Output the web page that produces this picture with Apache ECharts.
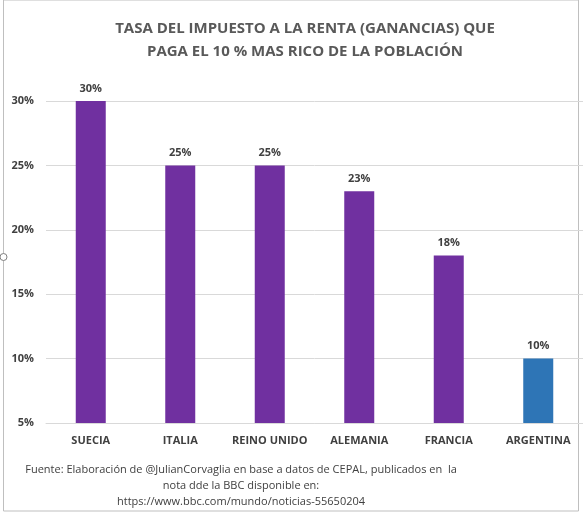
<!DOCTYPE html>
<html>
<head>
<meta charset="utf-8">
<script src="https://cdn.jsdelivr.net/npm/echarts@6/dist/echarts.min.js"></script>
<style>html,body{margin:0;padding:0;background:#fff}#main{width:583px;height:512px}</style>
</head>
<body>
<div id="main"></div>
<script>
const countries = ['SUECIA', 'ITALIA', 'REINO UNIDO', 'ALEMANIA', 'FRANCIA', 'ARGENTINA'];
const rates = [30, 25, 25, 23, 18, 10];
const barColors = ['#7030A0', '#7030A0', '#7030A0', '#7030A0', '#7030A0', '#2E75B6'];

const chart = echarts.init(document.getElementById('main'));
chart.setOption({
  animation: false,
  title: {
    text: 'TASA DEL IMPUESTO A LA RENTA (GANANCIAS) QUE\nPAGA EL 10 % MAS RICO DE LA POBLACIÓN',
    left: 300, top: 12, textAlign: 'center',
    textStyle: { fontFamily: 'Open Sans', fontSize: 15, fontWeight: 'bold', color: '#595959', lineHeight: 23 }
  },
  graphic: [
    { type: 'rect', shape: { x: 3.5, y: 0, width: 575, height: 511 }, style: { fill: 'none', stroke: '#bfbfbf', lineWidth: 1 } },
    { type: 'circle', shape: { cx: 3.5, cy: 257, r: 3.5 }, style: { fill: '#fff', stroke: '#808080' } },
    {
      type: 'text',
      style: {
        x: 241, y: 462,
        text: 'Fuente: Elaboración de @JulianCorvaglia en base a datos de CEPAL, publicados en  la\nnota dde la BBC disponible en:\nhttps://www.bbc.com/mundo/noticias-55650204',
        textAlign: 'center', fontFamily: 'Open Sans', fontSize: 11, lineHeight: 16, fill: '#404040'
      }
    }
  ],
  grid: { left: 46, right: 0, top: 101, bottom: 89 },
  xAxis: {
    type: 'category', data: countries,
    axisLine: { lineStyle: { color: '#d9d9d9' } }, axisTick: { show: false },
    axisLabel: { interval: 0, color: '#404040', fontFamily: 'Open Sans', fontSize: 11, fontWeight: 'bold', margin: 12 }
  },
  yAxis: {
    type: 'value', min: 5, max: 30, interval: 5,
    axisLabel: { formatter: '{value}%', color: '#404040', fontFamily: 'Open Sans', fontSize: 11, fontWeight: 'bold', margin: 12 },
    splitLine: { lineStyle: { color: '#d9d9d9' } }
  },
  series: [{
    type: 'bar', barWidth: 30,
    data: rates.map((v, i) => ({ value: v, itemStyle: { color: barColors[i] } })),
    label: { show: true, position: 'top', formatter: '{c}%', color: '#404040', fontFamily: 'Open Sans', fontSize: 11, fontWeight: 'bold', distance: 7 }
  }]
});
</script>
</body>
</html>
